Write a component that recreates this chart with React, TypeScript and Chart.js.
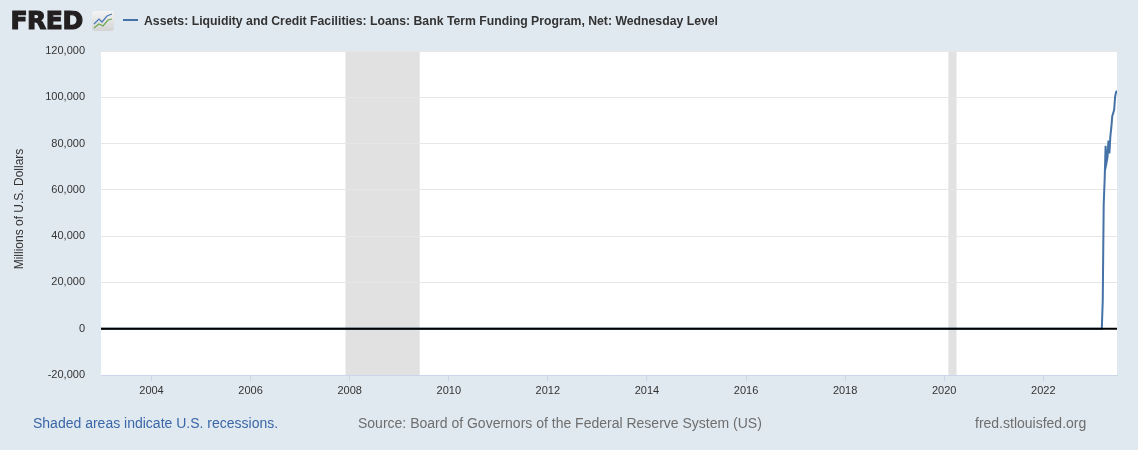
import React, { useEffect, useRef } from "react";
import { Chart, registerables } from "chart.js";

Chart.register(...registerables);

// ---- Data ----
const obsDates = [
  "2002-12-25", "2023-03-08", "2023-03-15", "2023-03-22", "2023-03-29",
  "2023-04-05", "2023-04-12", "2023-04-19", "2023-04-26", "2023-05-03",
  "2023-05-10", "2023-05-17", "2023-05-24", "2023-05-31", "2023-06-07",
  "2023-06-14", "2023-06-21", "2023-06-28",
];
const obsValues = [
  0, 0, 11943, 53669, 64403,
  79021, 71837, 73980, 81335, 75779,
  83088, 86844, 91873, 93138, 94588,
  100156, 102188, 102853,
];
const xTickYears = [2004, 2006, 2008, 2010, 2012, 2014, 2016, 2018, 2020, 2022];
const yTickValues = [-20000, 0, 20000, 40000, 60000, 80000, 100000, 120000];
const recessionStarts = ["2007-12-01", "2020-02-01"];
const recessionEnds = ["2009-06-01", "2020-04-01"];

const titleText =
  "Assets: Liquidity and Credit Facilities: Loans: Bank Term Funding Program, Net: Wednesday Level";
const yAxisTitle = "Millions of U.S. Dollars";
const footerLeft = "Shaded areas indicate U.S. recessions.";
const footerMid = "Source: Board of Governors of the Federal Reserve System (US)";
const footerRight = "fred.stlouisfed.org";

function decYear(s: string): number {
  const [y, m, d] = s.split("-").map(Number);
  const t = Date.UTC(y, m - 1, d);
  const a = Date.UTC(y, 0, 1);
  const b = Date.UTC(y + 1, 0, 1);
  return y + (t - a) / (b - a);
}

const BG = "#e1e9f0";
const LINE = "#4572a7";

const decorPlugin = {
  id: "fredDecor",
  beforeDraw(chart: any) {
    const { ctx, chartArea, scales } = chart;
    ctx.save();
    ctx.fillStyle = BG;
    ctx.fillRect(0, 0, chart.width, chart.height);
    ctx.fillStyle = "#ffffff";
    ctx.fillRect(chartArea.left, chartArea.top, chartArea.right - chartArea.left, chartArea.bottom - chartArea.top);
    ctx.fillStyle = "#e1e1e1";
    for (let i = 0; i < recessionStarts.length; i++) {
      const x1 = scales.x.getPixelForValue(decYear(recessionStarts[i]));
      const x2 = scales.x.getPixelForValue(decYear(recessionEnds[i]));
      ctx.fillRect(x1, chartArea.top, x2 - x1, chartArea.bottom - chartArea.top);
    }
    ctx.restore();
  },
  afterDatasetsDraw(chart: any) {
    const { ctx, chartArea, scales } = chart;
    const y0 = scales.y.getPixelForValue(0);
    ctx.save();
    ctx.strokeStyle = "#000000";
    ctx.lineWidth = 2;
    ctx.beginPath();
    ctx.moveTo(chartArea.left, y0);
    ctx.lineTo(chartArea.right, y0);
    ctx.stroke();
    ctx.restore();
  },
  afterDraw(chart: any) {
    const { ctx } = chart;
    ctx.save();
    // FRED logo
    ctx.fillStyle = "#231f20";
    ctx.strokeStyle = "#231f20";
    ctx.lineWidth = 1.2;
    ctx.lineJoin = "miter";
    ctx.textBaseline = "alphabetic";
    ctx.textAlign = "left";
    ctx.font = 'bold 25px "DejaVu Sans", "Liberation Sans", Arial, sans-serif';
    try { (ctx as any).letterSpacing = "-0.5px"; } catch (e) {}
    ctx.fillText("FRED", 10.5, 29, 76);
    ctx.strokeText("FRED", 10.5, 29, 76);
    try { (ctx as any).letterSpacing = "0px"; } catch (e) {}
    // icon
    const ix = 92, iy = 11, iw = 22, ih = 20;
    const g = ctx.createLinearGradient(0, iy, 0, iy + ih);
    g.addColorStop(0, "#f4f4f4");
    g.addColorStop(1, "#d4d4d4");
    ctx.fillStyle = g;
    ctx.beginPath();
    ctx.moveTo(ix + 3, iy);
    ctx.lineTo(ix + iw - 3, iy);
    ctx.quadraticCurveTo(ix + iw, iy, ix + iw, iy + 3);
    ctx.lineTo(ix + iw, iy + ih - 3);
    ctx.quadraticCurveTo(ix + iw, iy + ih, ix + iw - 3, iy + ih);
    ctx.lineTo(ix + 3, iy + ih);
    ctx.quadraticCurveTo(ix, iy + ih, ix, iy + ih - 3);
    ctx.lineTo(ix, iy + 3);
    ctx.quadraticCurveTo(ix, iy, ix + 3, iy);
    ctx.fill();
    ctx.lineWidth = 1.2;
    ctx.strokeStyle = "#4a78b8";
    ctx.beginPath();
    ctx.moveTo(ix + 2, iy + 13);
    ctx.lineTo(ix + 7, iy + 8);
    ctx.lineTo(ix + 10, iy + 11);
    ctx.lineTo(ix + 15, iy + 5);
    ctx.lineTo(ix + 20, iy + 3);
    ctx.stroke();
    ctx.strokeStyle = "#6aa84f";
    ctx.beginPath();
    ctx.moveTo(ix + 2, iy + 17);
    ctx.lineTo(ix + 7, iy + 13);
    ctx.lineTo(ix + 11, iy + 15);
    ctx.lineTo(ix + 16, iy + 9);
    ctx.lineTo(ix + 20, iy + 8);
    ctx.stroke();
    // legend line
    ctx.strokeStyle = LINE;
    ctx.lineWidth = 2;
    ctx.beginPath();
    ctx.moveTo(123, 20);
    ctx.lineTo(138, 20);
    ctx.stroke();
    // title
    ctx.fillStyle = "#333333";
    ctx.font = 'bold 12.5px "Liberation Sans Narrow", "Liberation Sans", Arial, sans-serif';
    ctx.fillText(titleText, 144, 24.5, 574);
    // y axis title
    ctx.save();
    ctx.translate(20, 209);
    ctx.rotate(-Math.PI / 2);
    ctx.textAlign = "center";
    ctx.textBaseline = "middle";
    ctx.font = '12px "Liberation Sans", Arial, sans-serif';
    ctx.fillStyle = "#333333";
    ctx.fillText(yAxisTitle, 0, 0);
    ctx.restore();
    // footer
    ctx.textBaseline = "middle";
    ctx.font = '14px "Liberation Sans", Arial, sans-serif';
    ctx.fillStyle = "#3a66a7";
    ctx.fillText(footerLeft, 33, 424);
    ctx.fillStyle = "#6e6e6e";
    ctx.fillText(footerMid, 358, 424);
    ctx.fillText(footerRight, 975, 424);
    ctx.restore();
  },
};

export default function App() {
  const ref = useRef<HTMLCanvasElement | null>(null);
  useEffect(() => {
    if (!ref.current) return;
    const points = obsDates.map((d, i) => ({ x: decYear(d), y: obsValues[i] }));
    const chart = new Chart(ref.current, {
      type: "line",
      data: {
        datasets: [
          {
            data: points,
            borderColor: LINE,
            borderWidth: 2,
            pointRadius: 0,
            fill: false,
            tension: 0,
          },
        ],
      },
      options: {
        animation: false,
        responsive: false,
        layout: { padding: { left: 0, right: 21, top: 51, bottom: 0 } },
        plugins: { legend: { display: false }, tooltip: { enabled: false } },
        scales: {
          x: {
            type: "linear",
            min: decYear(obsDates[0]),
            max: decYear(obsDates[obsDates.length - 1]),
            afterBuildTicks: (scale: any) => {
              scale.ticks = xTickYears.map((v) => ({ value: v }));
            },
            afterFit: (scale: any) => {
              scale.height = 75;
            },
            grid: {
              drawOnChartArea: false,
              drawTicks: true,
              tickLength: 6,
              color: "#ccd6eb",
            },
            border: { display: true, color: "#ccd6eb", width: 1 },
            ticks: {
              autoSkip: false,
              maxRotation: 0,
              padding: 3,
              color: "#333333",
              font: { family: '"Liberation Sans", Arial, sans-serif', size: 11 },
              callback: (v: any) => String(v),
            },
          },
          y: {
            min: -20000,
            max: 120000,
            afterBuildTicks: (scale: any) => {
              scale.ticks = yTickValues.map((v) => ({ value: v }));
            },
            afterFit: (scale: any) => {
              scale.width = 101;
            },
            grid: {
              drawTicks: false,
              color: "#e6e6e6",
              lineWidth: 1,
            },
            border: { display: false },
            ticks: {
              padding: 16,
              color: "#333333",
              font: { family: '"Liberation Sans", Arial, sans-serif', size: 11 },
              callback: (v: any) => Number(v).toLocaleString("en-US"),
            },
          },
        },
      },
      plugins: [decorPlugin],
    } as any);
    return () => chart.destroy();
  }, []);
  return (
    <div style={{ position: "absolute", left: 0, top: 0, width: 1138, height: 450, background: BG }}>
      <canvas ref={ref} width={1138} height={450} style={{ display: "block", width: 1138, height: 450 }} />
    </div>
  );
}
